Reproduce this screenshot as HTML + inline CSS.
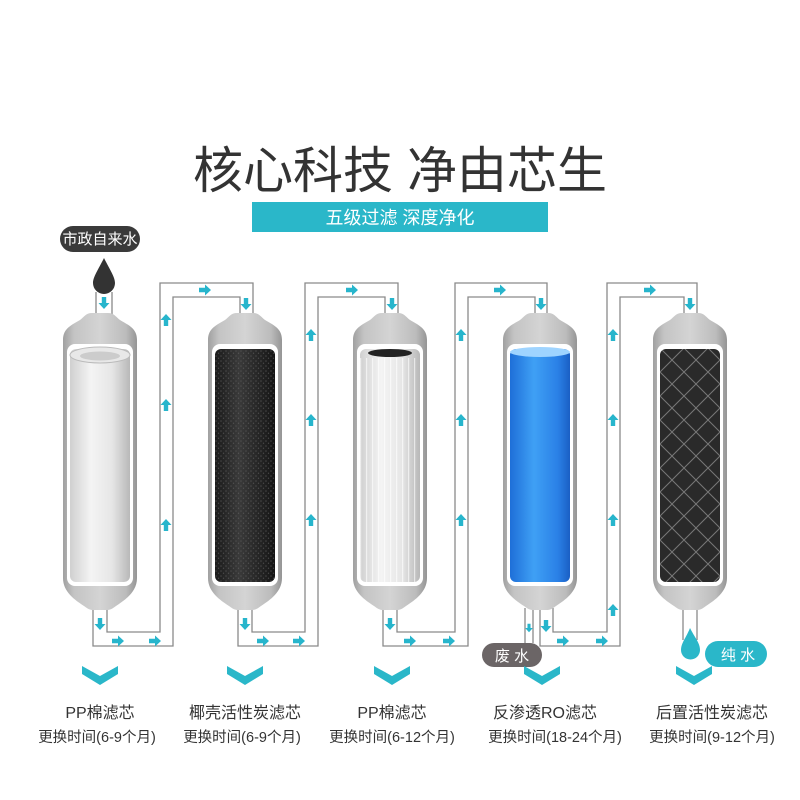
<!DOCTYPE html>
<html><head><meta charset="utf-8"><style>
body{margin:0;background:#fff}
svg{display:block}
text{font-family:"Liberation Sans","Noto Sans CJK SC",sans-serif}
</style></head><body>
<svg width="800" height="800" viewBox="0 0 800 800" xmlns="http://www.w3.org/2000/svg">
<defs>
<linearGradient id="hs" x1="0" x2="1"><stop offset="0" stop-color="#a0a0a0"/><stop offset=".15" stop-color="#c4c4c4"/><stop offset=".5" stop-color="#d4d4d4"/><stop offset=".85" stop-color="#bcbcbc"/><stop offset="1" stop-color="#959595"/></linearGradient>
<linearGradient id="wf" x1="0" x2="1"><stop offset="0" stop-color="#d0d0d0"/><stop offset=".35" stop-color="#f4f4f4"/><stop offset=".7" stop-color="#e6e6e6"/><stop offset="1" stop-color="#b8b8b8"/></linearGradient>
<linearGradient id="bk" x1="0" x2="1"><stop offset="0" stop-color="#1a1a1a"/><stop offset=".4" stop-color="#3a3a3a"/><stop offset="1" stop-color="#151515"/></linearGradient>
<linearGradient id="bl" x1="0" x2="1"><stop offset="0" stop-color="#1e6fd8"/><stop offset=".4" stop-color="#3fa0f5"/><stop offset=".8" stop-color="#2a80e6"/><stop offset="1" stop-color="#1a5fc4"/></linearGradient>
<pattern id="st" width="6" height="10" patternUnits="userSpaceOnUse"><rect x="0" width="1.2" height="10" fill="#fff" opacity=".6"/></pattern>
<pattern id="xh" width="24" height="24" patternUnits="userSpaceOnUse"><path d="M0 0L24 24M24 0L0 24" stroke="#777" stroke-width="1" fill="none"/></pattern>
<pattern id="dots" width="5" height="5" patternUnits="userSpaceOnUse"><circle cx="1" cy="1" r=".8" fill="#555"/><circle cx="3.5" cy="3.2" r=".6" fill="#666"/></pattern>
<g id="ar"><path d="M-6 -2.2H0V-5.5L6 0 0 5.5V2.2H-6Z" fill="#27b5cc"/></g>
</defs>

<text x="400" y="188" font-size="50" fill="#333" text-anchor="middle">核心科技 净由芯生</text>
<rect x="252" y="202" width="296" height="30" fill="#2ab7c9"/>
<text x="400" y="224" font-size="18" fill="#fff" text-anchor="middle">五级过滤 深度净化</text>

<!-- input -->
<rect x="60" y="226" width="80" height="26" rx="13" fill="#3a3a3a"/>
<text x="100" y="244" font-size="15" fill="#fff" text-anchor="middle">市政自来水</text>
<path d="M104 258 C98 270 93 277 93 283 A11 11 0 0 0 115 283 C115 277 110 270 104 258Z" fill="#333"/>
<path d="M96 292V315M112 292V315" stroke="#888" stroke-width="1.3" fill="none"/>
<use href="#ar" transform="translate(104,303) rotate(90)"/>

<!-- pipes -->
<g stroke="#8a8a8a" stroke-width="1.3" fill="none">
<path d="M107 608V632H160V283H253V315"/><path d="M93 608V646H173V297H240V315"/>
<path d="M252 608V632H305V283H398V315"/><path d="M238 608V646H318V297H385V315"/>
<path d="M397 608V632H455V283H547V315"/><path d="M383 608V646H468V297H535V315"/>
<path d="M553 608V632H607V283H697V315"/><path d="M540 608V646H620V297H684V315"/>
<path d="M525 608V643M533 608V643"/>
<path d="M683 608V640M697 608V640"/>
</g>
<g>
<use href="#ar" transform="translate(100,624) rotate(90)"/>
<use href="#ar" transform="translate(118,641)"/>
<use href="#ar" transform="translate(155,641)"/>
<use href="#ar" transform="translate(166,405) rotate(-90)"/>
<use href="#ar" transform="translate(166,320) rotate(-90)"/>
<use href="#ar" transform="translate(166,525) rotate(-90)"/>
<use href="#ar" transform="translate(205,290)"/>
<use href="#ar" transform="translate(246,304) rotate(90)"/>

<use href="#ar" transform="translate(245,624) rotate(90)"/>
<use href="#ar" transform="translate(263,641)"/>
<use href="#ar" transform="translate(299,641)"/>
<use href="#ar" transform="translate(311,520) rotate(-90)"/>
<use href="#ar" transform="translate(311,420) rotate(-90)"/>
<use href="#ar" transform="translate(311,335) rotate(-90)"/>
<use href="#ar" transform="translate(352,290)"/>
<use href="#ar" transform="translate(392,304) rotate(90)"/>

<use href="#ar" transform="translate(390,624) rotate(90)"/>
<use href="#ar" transform="translate(410,641)"/>
<use href="#ar" transform="translate(449,641)"/>
<use href="#ar" transform="translate(461,520) rotate(-90)"/>
<use href="#ar" transform="translate(461,420) rotate(-90)"/>
<use href="#ar" transform="translate(461,335) rotate(-90)"/>
<use href="#ar" transform="translate(500,290)"/>
<use href="#ar" transform="translate(541,304) rotate(90)"/>

<use href="#ar" transform="translate(529,628) rotate(90) scale(.7)"/>
<use href="#ar" transform="translate(546,626) rotate(90)"/>
<use href="#ar" transform="translate(563,641)"/>
<use href="#ar" transform="translate(602,641)"/>
<use href="#ar" transform="translate(613,610) rotate(-90)"/>
<use href="#ar" transform="translate(613,520) rotate(-90)"/>
<use href="#ar" transform="translate(613,420) rotate(-90)"/>
<use href="#ar" transform="translate(613,335) rotate(-90)"/>
<use href="#ar" transform="translate(650,290)"/>
<use href="#ar" transform="translate(690,304) rotate(90)"/>
</g>

<!-- housings -->
<g id="h1">
<path d="M63 340 C63 328 72 325 80 320 C84 317 86 313 92 313 L108 313 C114 313 116 317 120 320 C128 325 137 328 137 340 L137 578 C137 592 125 600 116 606 C112 609 110 610 107 610 L93 610 C90 610 88 609 84 606 C75 600 63 592 63 578Z" fill="url(#hs)"/>
</g>
<use href="#h1" transform="translate(145,0)"/>
<use href="#h1" transform="translate(290,0)"/>
<use href="#h1" transform="translate(440,0)"/>
<use href="#h1" transform="translate(590,0)"/>

<!-- filters -->
<g>
<rect x="67" y="344" width="66" height="242" rx="8" fill="#fff"/>
<rect x="70" y="349" width="60" height="233" rx="6" fill="url(#wf)"/>
<ellipse cx="100" cy="355" rx="30" ry="8" fill="#e8e8e8" stroke="#bbb"/>
<ellipse cx="100" cy="356" rx="20" ry="4.5" fill="#ccc"/>

<rect x="212" y="344" width="66" height="242" rx="8" fill="#fff"/>
<rect x="215" y="349" width="60" height="233" rx="6" fill="url(#bk)"/>
<rect x="215" y="349" width="60" height="233" rx="6" fill="url(#dots)" opacity=".7"/>

<rect x="357" y="344" width="66" height="242" rx="8" fill="#fff"/>
<rect x="360" y="349" width="60" height="233" rx="6" fill="url(#wf)"/>
<rect x="360" y="358" width="60" height="224" fill="url(#st)"/>
<ellipse cx="390" cy="353" rx="22" ry="4" fill="#222"/>

<rect x="507" y="344" width="66" height="242" rx="8" fill="#fff"/>
<rect x="510" y="349" width="60" height="233" rx="6" fill="url(#bl)"/>
<ellipse cx="540" cy="352" rx="30" ry="5" fill="#9fd4ff"/>

<rect x="657" y="344" width="66" height="242" rx="8" fill="#fff"/>
<rect x="660" y="349" width="60" height="233" rx="6" fill="#2a2a2a"/>
<rect x="660" y="349" width="60" height="233" rx="6" fill="url(#xh)"/>
</g>

<!-- outputs -->
<rect x="482" y="643" width="60" height="24" rx="12" fill="#6b6566"/>
<text x="512" y="661" font-size="15" fill="#fff" text-anchor="middle">废 水</text>
<path d="M690 628 C686 638 681 643 681 650 A9.5 9.5 0 0 0 700 650 C700 643 695 638 690 628Z" fill="#2ab7c9"/>
<rect x="705" y="641" width="62" height="26" rx="13" fill="#2ab7c9"/>
<text x="738" y="660" font-size="15" fill="#fff" text-anchor="middle">纯 水</text>

<!-- chevrons -->
<g fill="#2ab7c9">
<path d="M82 666L100 676 118 666V674L100 685 82 674Z"/>
<path d="M227 666L245 676 263 666V674L245 685 227 674Z"/>
<path d="M374 666L392 676 410 666V674L392 685 374 674Z"/>
<path d="M524 666L542 676 560 666V674L542 685 524 674Z"/>
<path d="M676 666L694 676 712 666V674L694 685 676 674Z"/>
</g>

<g font-size="16" fill="#333" text-anchor="middle">
<text x="100" y="718">PP棉滤芯</text>
<text x="245" y="718">椰壳活性炭滤芯</text>
<text x="392" y="718">PP棉滤芯</text>
<text x="545" y="718">反渗透RO滤芯</text>
<text x="712" y="718">后置活性炭滤芯</text>
</g>
<g font-size="14.5" fill="#333" text-anchor="middle">
<text x="97" y="742">更换时间(6-9个月)</text>
<text x="242" y="742">更换时间(6-9个月)</text>
<text x="392" y="742">更换时间(6-12个月)</text>
<text x="555" y="742">更换时间(18-24个月)</text>
<text x="712" y="742">更换时间(9-12个月)</text>
</g>
</svg>
</body></html>
